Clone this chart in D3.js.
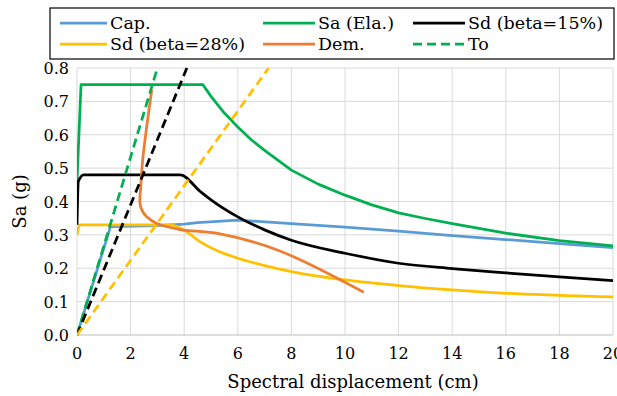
<!DOCTYPE html>
<html>
<head>
<meta charset="utf-8">
<style>
  body { margin: 0; background: white; }
  text { font-family: "DejaVu Serif", "Liberation Serif", serif; fill: #000; }
</style>
</head>
<body>
<svg width="617" height="396"></svg>
<script src="https://d3js.org/d3.v7.min.js"></script>
<script>
// values (Sd in cm, Sa in g)
let capSd = [0, 1.25, 3, 4, 4.5, 6, 8, 10, 12, 14, 16, 18, 20];
let capSa = [0, 0.325, 0.328, 0.332, 0.337, 0.344, 0.334, 0.323, 0.311, 0.298, 0.286, 0.274, 0.262];

let elaSd = [0, 0.15, 4.7, 5, 5.5, 6, 6.5, 7, 8, 9, 10, 11, 12, 13, 14, 16, 18, 20];
let elaSa = [0.46, 0.75, 0.75, 0.715, 0.665, 0.623, 0.585, 0.553, 0.494, 0.452, 0.419, 0.39, 0.366, 0.349, 0.334, 0.305, 0.283, 0.267];

let sd15Sd = [0, 0.05, 0.25, 3.85, 4.6, 5, 6, 7, 8, 10, 12, 14, 16, 18, 20];
let sd15Sa = [0.33, 0.46, 0.48, 0.48, 0.43, 0.405, 0.354, 0.315, 0.284, 0.245, 0.215, 0.199, 0.186, 0.174, 0.163];

let sd28Sd = [0, 0.1, 3.5, 4, 4.6, 5.3, 6, 7, 8, 10, 12, 14, 16, 18, 20];
let sd28Sa = [0.30, 0.33, 0.33, 0.314, 0.279, 0.25, 0.23, 0.208, 0.19, 0.165, 0.148, 0.135, 0.125, 0.119, 0.114];

let demSd = [2.79, 2.6, 2.45, 2.38, 2.35, 2.45, 2.6, 2.98, 3.85, 5.2, 7.5, 10.7];
let demSa = [0.735, 0.624, 0.524, 0.444, 0.394, 0.37, 0.354, 0.334, 0.316, 0.305, 0.254, 0.128];

// straight period lines from the origin
let toSd = [0, 3.0];
let toSa = [0, 0.8];
let to15Sd = [0, 4.1];
let to15Sa = [0, 0.8];
let to28Sd = [0, 7.15];
let to28Sa = [0, 0.8];

let xTicks = [0, 2, 4, 6, 8, 10, 12, 14, 16, 18, 20];
let yTicks = [0, 0.1, 0.2, 0.3, 0.4, 0.5, 0.6, 0.7, 0.8];

let blue = "#5b9bd5", green = "#00b050", orange = "#ed7d31", yellow = "#ffc000";

let series = [
  { name: "Cap.", xs: capSd, ys: capSa, color: blue, dash: null, curve: d3.curveLinear },
  { name: "Sd (beta=28%)", xs: sd28Sd, ys: sd28Sa, color: yellow, dash: null, curve: d3.curveMonotoneX },
  { name: "Sa (Ela.)", xs: elaSd, ys: elaSa, color: green, dash: null, curve: d3.curveLinear },
  { name: "Sd (beta=15%)", xs: sd15Sd, ys: sd15Sa, color: "#000", dash: null, curve: d3.curveMonotoneX },
  { name: "Dem.", xs: demSd, ys: demSa, color: orange, dash: null, curve: d3.curveCatmullRom },
  { name: "To", xs: toSd, ys: toSa, color: green, dash: "9,5", curve: d3.curveLinear },
  { name: "", xs: to15Sd, ys: to15Sa, color: "#000", dash: "9,5", curve: d3.curveLinear },
  { name: "", xs: to28Sd, ys: to28Sa, color: yellow, dash: "9,5", curve: d3.curveLinear }
];

let svg = d3.select("svg");
let pLeft = 77, pRight = 613, pTop = 68, pBottom = 335;

let x = d3.scaleLinear().domain([0, 20]).range([pLeft, pRight]);
let y = d3.scaleLinear().domain([0, 0.8]).range([pBottom, pTop]);

// gridlines
svg.append("g")
  .selectAll("line")
  .data(xTicks)
  .join("line")
  .attr("x1", d => x(d)).attr("x2", d => x(d))
  .attr("y1", pTop).attr("y2", pBottom)
  .style("stroke", "#d9d9d9").style("stroke-width", 1);

svg.append("g")
  .selectAll("line")
  .data(yTicks)
  .join("line")
  .attr("x1", pLeft).attr("x2", pRight)
  .attr("y1", d => y(d)).attr("y2", d => y(d))
  .style("stroke", d => d == 0 ? "#bfbfbf" : "#d9d9d9").style("stroke-width", 1);

// tick labels
svg.append("g")
  .selectAll("text")
  .data(xTicks)
  .join("text")
  .attr("x", d => x(d))
  .attr("y", 359)
  .attr("text-anchor", "middle")
  .style("font-size", "16px")
  .text(d => d);

svg.append("g")
  .selectAll("text")
  .data(yTicks)
  .join("text")
  .attr("x", 69)
  .attr("y", d => y(d) + 6)
  .attr("text-anchor", "end")
  .style("font-size", "16px")
  .text(d => d.toFixed(1));

svg.append("text")
  .attr("x", 353)
  .attr("y", 388)
  .attr("text-anchor", "middle")
  .style("font-size", "18px")
  .text("Spectral displacement (cm)");

svg.append("text")
  .attr("transform", "translate(26," + ((pTop + pBottom) / 2) + ") rotate(-90)")
  .attr("text-anchor", "middle")
  .style("font-size", "18px")
  .text("Sa (g)");

// curves
svg.append("clipPath").attr("id", "plot")
  .append("rect").attr("x", pLeft).attr("y", pTop - 1).attr("width", pRight - pLeft + 2).attr("height", pBottom - pTop + 2);

svg.append("g")
  .attr("clip-path", "url(#plot)")
  .selectAll("path")
  .data(series)
  .join("path")
  .attr("d", s => d3.line().x(d => x(d[0])).y(d => y(d[1])).curve(s.curve)(d3.zip(s.xs, s.ys)))
  .style("fill", "none")
  .style("stroke", s => s.color)
  .style("stroke-width", 2.75)
  .style("stroke-dasharray", s => s.dash)
  .style("stroke-linejoin", "round");

// legend
let legend = svg.append("g");
legend.append("rect")
  .attr("x", 50).attr("y", 8).attr("width", 564).attr("height", 51)
  .style("fill", "white").style("stroke", "#000").style("stroke-width", 1.2);

let items = [
  { s: series[0], lx: 60, row: 0 },
  { s: series[2], lx: 263, row: 0 },
  { s: series[3], lx: 413, row: 0 },
  { s: series[1], lx: 60, row: 1 },
  { s: series[4], lx: 263, row: 1 },
  { s: series[5], lx: 413, row: 1 }
];

let li = legend.selectAll(".item")
  .data(items)
  .join("g")
  .attr("class", "item")
  .attr("transform", d => "translate(" + d.lx + "," + (23 + d.row * 21) + ")");

li.append("line")
  .attr("x1", 0).attr("x2", d => d.lx == 60 ? 47 : 52)
  .style("stroke", d => d.s.color)
  .style("stroke-width", 2.75)
  .style("stroke-dasharray", d => d.s.dash);

li.append("text")
  .attr("x", d => d.lx == 60 ? 50 : 55)
  .attr("y", 6)
  .style("font-size", "17.5px")
  .text(d => d.s.name);
</script>
</body>
</html>
